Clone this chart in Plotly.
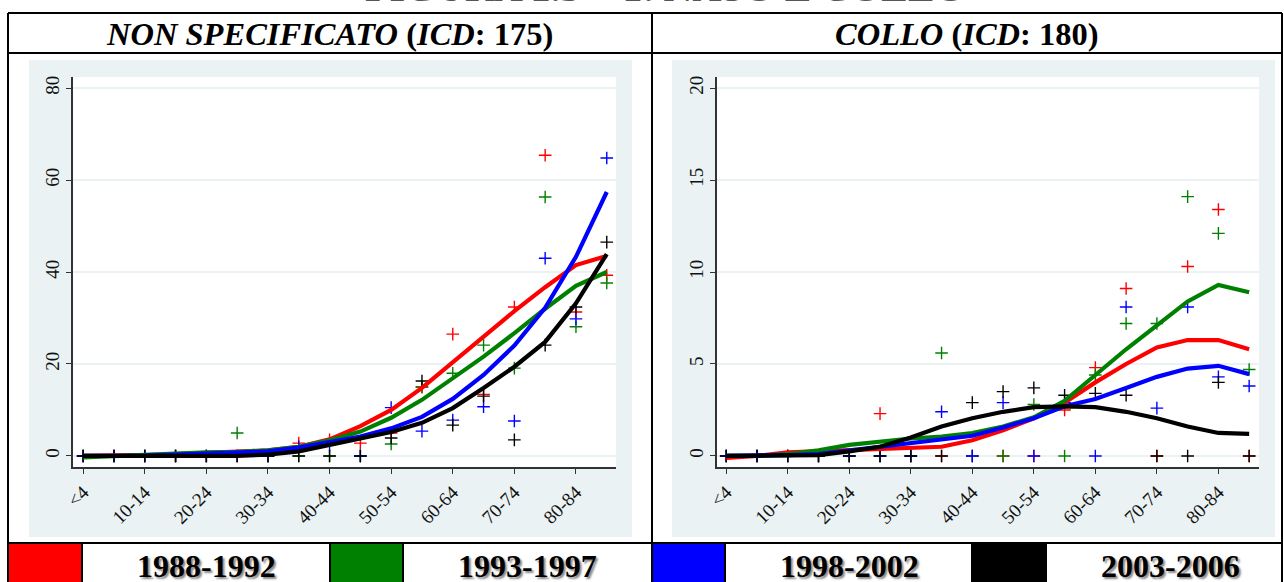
import plotly.graph_objects as go

# ---------------- data ----------------
ages = ["<4", "5-9", "10-14", "15-19", "20-24", "25-29", "30-34", "35-39", "40-44",
        "45-49", "50-54", "55-59", "60-64", "65-69", "70-74", "75-79", "80-84", "85+"]
tick_ages = ages[::2]
periods = ["1988-1992", "1993-1997", "1998-2002", "2003-2006"]

# Left panel: NON SPECIFICATO (ICD 175) - observed rates
ns_obs_8892 = [0, 0, 0, 0, 0, 0, 0, 2.8, 3.5, 2.8, 5.0, 15.0, 26.5, 13.4, 32.4, 65.4, 31.3, 39.3]
ns_obs_9397 = [0, 0, 0, 0, 0, 5.0, 0, 0, 0, 0, 2.6, 15.0, 18.0, 24.1, 19.1, 56.3, 28.1, 37.6]
ns_obs_9802 = [0, 0, 0, 0, 0, 0, 0, 2.0, 2.4, 0, 10.5, 5.4, 7.8, 10.7, 7.6, 43.0, 29.8, 64.8]
ns_obs_0306 = [0, 0, 0, 0, 0, 0, 0, 0, 0, 0, 3.9, 16.3, 6.7, 13.0, 3.5, 24.1, 32.4, 46.5]
# Left panel - smoothed rates
ns_fit_8892 = [0, 0, 0.2, 0.4, 0.6, 0.8, 1.2, 2.0, 3.6, 6.5, 10.0, 14.8, 20.4, 26.0, 31.5, 36.7, 41.5, 43.5]
ns_fit_9397 = [-0.3, 0, 0.4, 0.6, 0.8, 0.9, 1.2, 2.0, 3.4, 5.3, 8.3, 12.2, 17.0, 21.6, 26.7, 32.0, 37.0, 40.0]
ns_fit_9802 = [0, 0, 0.1, 0.3, 0.5, 0.6, 1.0, 1.8, 3.0, 4.2, 6.0, 8.5, 12.4, 17.6, 24.0, 32.2, 43.3, 57.4]
ns_fit_0306 = [0, 0, 0, 0, 0, 0, 0.3, 1.0, 2.4, 3.7, 5.2, 7.2, 10.4, 14.8, 19.4, 24.8, 33.2, 43.9]

# Right panel: COLLO (ICD 180) - observed rates
co_obs_8892 = [0, 0, 0, 0, 0, 2.3, 0, 0, 0, 0, 0, 2.5, 4.8, 9.1, 0, 10.3, 13.4, 0]
co_obs_9397 = [0, 0, 0, 0, 0, 0, 0, 5.6, 0, 0, 2.8, 0, 4.4, 7.2, 7.2, 14.1, 12.1, 4.7]
co_obs_9802 = [0, 0, 0, 0, 0, 0, 0, 2.4, 0, 2.9, 0, 2.9, 0, 8.1, 2.6, 8.1, 4.3, 3.8]
co_obs_0306 = [0, 0, 0, 0, 0, 0, 0, 0, 2.9, 3.5, 3.7, 3.3, 3.4, 3.3, 0, 0, 4.0, 0]
# Right panel - smoothed rates
co_fit_8892 = [-0.1, 0, 0.2, 0.25, 0.3, 0.35, 0.4, 0.5, 0.85, 1.4, 2.05, 2.9, 4.0, 5.0, 5.9, 6.3, 6.3, 5.8]
co_fit_9397 = [0, 0, 0.1, 0.3, 0.6, 0.8, 0.95, 1.05, 1.25, 1.6, 2.1, 3.0, 4.4, 5.8, 7.1, 8.4, 9.3, 8.9]
co_fit_9802 = [0, 0, 0.05, 0.1, 0.3, 0.5, 0.7, 0.85, 1.1, 1.55, 2.05, 2.7, 3.1, 3.7, 4.3, 4.75, 4.9, 4.45]
co_fit_0306 = [0, 0, 0, 0.05, 0.25, 0.5, 1.0, 1.6, 2.05, 2.4, 2.65, 2.7, 2.65, 2.4, 2.05, 1.6, 1.25, 1.2]

left_title = "<b><i>NON SPECIFICATO</i> (<i>ICD</i>: 175)</b>"
right_title = "<b><i>COLLO</i> (<i>ICD</i>: 180)</b>"
top_title = "<b>FIGURA 1.3 – T. NASO E COLLO</b>"

# ---------------- styling ----------------
W, H = 1284, 582
colors = ["#ff0000", "#008000", "#0000ff", "#000000"]
BG = "#eaf2f3"
SERIF = "Liberation Serif"

def px(x):
    return x / W

def py(y):
    return 1 - y / H

fig = go.Figure()

panels = [
    ([ns_obs_8892, ns_obs_9397, ns_obs_9802, ns_obs_0306],
     [ns_fit_8892, ns_fit_9397, ns_fit_9802, ns_fit_0306], "x", "y"),
    ([co_obs_8892, co_obs_9397, co_obs_9802, co_obs_0306],
     [co_fit_8892, co_fit_9397, co_fit_9802, co_fit_0306], "x2", "y2"),
]

for obs, fits, xa, ya in panels:
    for i in range(4):
        fig.add_trace(go.Scatter(
            x=ages, y=obs[i], mode="markers", xaxis=xa, yaxis=ya,
            marker=dict(symbol="cross-thin-open", size=9, color=colors[i],
                        line=dict(width=1.4, color=colors[i])),
            showlegend=False, hoverinfo="skip"))
    for i in range(4):
        fig.add_trace(go.Scatter(
            x=ages, y=fits[i], mode="lines", xaxis=xa, yaxis=ya,
            line=dict(color=colors[i], width=4.2),
            showlegend=False, hoverinfo="skip"))

x_common = dict(
    type="category", categoryorder="array", categoryarray=ages,
    tickmode="array", tickvals=tick_ages, ticktext=tick_ages,
    tickangle=-45, ticks="outside", ticklen=5, tickwidth=1.2, tickcolor="#333",
    showline=True, linecolor="#333", linewidth=1.5,
    showgrid=False, zeroline=False, automargin=False,
    tickfont=dict(family=SERIF, size=19, color="#111"),
)
y_common = dict(
    tickangle=-90, ticks="outside", ticklen=5, tickwidth=1.2, tickcolor="#333",
    showline=True, linecolor="#333", linewidth=1.5,
    showgrid=True, gridcolor=BG, gridwidth=1.5, zeroline=False, automargin=False,
    tickfont=dict(family=SERIF, size=19, color="#111"),
)

fig.update_layout(
    width=W, height=H,
    margin=dict(l=0, r=0, t=0, b=0, pad=0, autoexpand=False),
    showlegend=False,
    paper_bgcolor="white", plot_bgcolor="white",
    xaxis=dict(domain=[px(73), px(616)], range=[-0.33, 17.3], anchor="y", **x_common),
    yaxis=dict(domain=[py(467), py(77)], range=[-2.4, 82.4], anchor="x",
               tickvals=[0, 20, 40, 60, 80], **y_common),
    xaxis2=dict(domain=[px(717), px(1259)], range=[-0.3, 17.32], anchor="y2", **x_common),
    yaxis2=dict(domain=[py(467), py(77)], range=[-0.6, 20.6], anchor="x2",
                tickvals=[0, 5, 10, 15, 20], **y_common),
)

shapes = []
# graph region backgrounds
for (x0, x1, wx0, wx1) in [(29, 632, 73, 616), (672, 1275, 717, 1259)]:
    shapes.append(dict(type="rect", xref="paper", yref="paper", layer="below",
                       x0=px(x0), x1=px(x1), y0=py(537), y1=py(60),
                       fillcolor=BG, line=dict(width=0)))
    shapes.append(dict(type="rect", xref="paper", yref="paper", layer="below",
                       x0=px(wx0), x1=px(wx1), y0=py(467), y1=py(77),
                       fillcolor="white", line=dict(width=0)))

# legend colour boxes
for (x0, x1), c in zip([(8, 82), (330, 403), (652, 725), (972, 1046)], colors):
    shapes.append(dict(type="rect", xref="paper", yref="paper",
                       x0=px(x0), x1=px(x1), y0=py(585), y1=py(543),
                       fillcolor=c, line=dict(width=0)))

# table lines
def hline(y, x0=8, x1=1282):
    return dict(type="line", xref="paper", yref="paper",
                x0=px(x0), x1=px(x1), y0=py(y), y1=py(y),
                line=dict(color="black", width=2))

def vline(x, y0=13, y1=585):
    return dict(type="line", xref="paper", yref="paper",
                x0=px(x), x1=px(x), y0=py(y0), y1=py(y1),
                line=dict(color="black", width=2))

shapes += [hline(13), hline(53), hline(543),
           vline(8), vline(652), vline(1282)]
for x in [82, 330, 403, 725, 972, 1046]:
    shapes.append(vline(x, 543, 585))

fig.update_layout(shapes=shapes)

annotations = [
    dict(text=left_title, x=px(330), y=py(34), xref="paper", yref="paper",
         showarrow=False, xanchor="center", yanchor="middle",
         font=dict(family=SERIF, size=32.5, color="black")),
    dict(text=right_title, x=px(967), y=py(34), xref="paper", yref="paper",
         showarrow=False, xanchor="center", yanchor="middle",
         font=dict(family=SERIF, size=32.5, color="black")),
    dict(text=top_title, x=px(665), y=py(12), xref="paper", yref="paper",
         showarrow=False, xanchor="center", yanchor="bottom",
         font=dict(family=SERIF, size=40, color="#555")),
]
for xc, lab in zip([206, 527, 849, 1170], periods):
    annotations.append(dict(
        text="<b>" + lab + "</b>", x=px(xc), y=py(566), xref="paper", yref="paper",
        showarrow=False, xanchor="center", yanchor="middle",
        font=dict(family=SERIF, size=32, color="black",
                  shadow="2px 2px 2px #888")))
fig.update_layout(annotations=annotations)

fig.write_html(
    "out.html",
    config={"displayModeBar": False},
    post_script="document.body.style.margin='0';document.body.style.overflow='hidden';",
)
